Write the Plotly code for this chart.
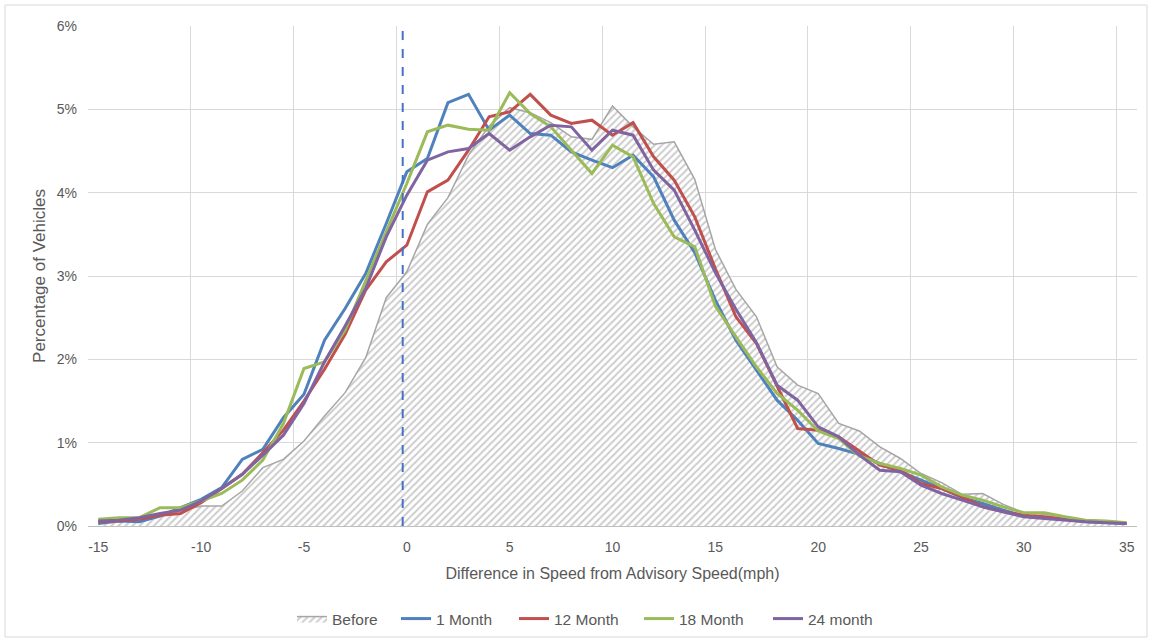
import plotly.graph_objects as go

# Speed difference from advisory speed (mph), one category per mph
speed_diff = list(range(-15, 36))

# Percentage of vehicles in each speed-difference bin
before = [0.04, 0.06, 0.08, 0.12, 0.18, 0.24, 0.24, 0.42, 0.70, 0.80,
          1.02, 1.32, 1.60, 2.02, 2.74, 3.05, 3.62, 3.94, 4.45, 4.80,
          5.02, 4.96, 4.84, 4.67, 4.64, 5.04, 4.79, 4.58, 4.61, 4.16,
          3.32, 2.84, 2.51, 1.91, 1.69, 1.59, 1.23, 1.14, 0.95, 0.81,
          0.63, 0.52, 0.38, 0.39, 0.26, 0.16, 0.14, 0.11, 0.06, 0.04, 0.03]
month_1 = [0.03, 0.06, 0.05, 0.12, 0.22, 0.32, 0.46, 0.80, 0.92, 1.30,
           1.58, 2.23, 2.61, 3.03, 3.63, 4.25, 4.41, 5.08, 5.18, 4.75,
           4.93, 4.71, 4.69, 4.49, 4.39, 4.30, 4.45, 4.19, 3.67, 3.28,
           2.71, 2.23, 1.87, 1.51, 1.27, 0.99, 0.93, 0.86, 0.75, 0.65,
           0.55, 0.45, 0.34, 0.27, 0.19, 0.12, 0.10, 0.08, 0.05, 0.04, 0.03]
month_12 = [0.05, 0.06, 0.08, 0.13, 0.15, 0.28, 0.45, 0.62, 0.88, 1.15,
            1.50, 1.88, 2.30, 2.83, 3.17, 3.37, 4.01, 4.15, 4.51, 4.91,
            4.97, 5.18, 4.93, 4.83, 4.87, 4.69, 4.84, 4.43, 4.15, 3.71,
            3.09, 2.51, 2.19, 1.67, 1.17, 1.15, 1.07, 0.90, 0.73, 0.67,
            0.51, 0.45, 0.35, 0.23, 0.17, 0.13, 0.11, 0.08, 0.06, 0.05, 0.03]
month_18 = [0.08, 0.10, 0.10, 0.22, 0.22, 0.30, 0.39, 0.55, 0.79, 1.23,
            1.89, 1.97, 2.35, 2.95, 3.53, 4.11, 4.73, 4.81, 4.76, 4.75,
            5.20, 4.95, 4.79, 4.51, 4.23, 4.57, 4.43, 3.87, 3.47, 3.35,
            2.64, 2.27, 1.91, 1.59, 1.39, 1.14, 1.05, 0.84, 0.75, 0.69,
            0.61, 0.47, 0.37, 0.31, 0.23, 0.16, 0.16, 0.11, 0.07, 0.06, 0.04]
month_24 = [0.06, 0.07, 0.10, 0.15, 0.19, 0.30, 0.45, 0.62, 0.85, 1.09,
            1.47, 1.97, 2.40, 2.85, 3.47, 3.97, 4.39, 4.49, 4.53, 4.71,
            4.51, 4.67, 4.81, 4.79, 4.51, 4.75, 4.69, 4.27, 4.03, 3.55,
            3.04, 2.60, 2.20, 1.69, 1.51, 1.19, 1.07, 0.85, 0.67, 0.65,
            0.49, 0.39, 0.31, 0.23, 0.17, 0.11, 0.09, 0.07, 0.05, 0.04, 0.03]

x_ticks = list(range(-15, 36, 5))
x_tick_labels = [str(v) for v in x_ticks]  # plain hyphen for negatives
y_ticks = list(range(0, 7))
y_tick_labels = [f"{v}%" for v in y_ticks]

# Advisory speed reference marker
advisory_x = -0.2

FONT = "Liberation Sans"
TXT = "#595959"
GRID = "#d9d9d9"

W, H = 1151, 642
ML, MR, MT, MB = 88, 14, 26, 116
pw, ph = W - ML - MR, H - MT - MB
def px_to_paper_x(px):
    return (px - ML) / pw
def px_to_paper_y(py):
    return (H - MB - py) / ph

fig = go.Figure()

fig.add_trace(go.Scatter(
    x=speed_diff, y=before, name="Before", mode="lines",
    line=dict(color="#a6a6a6", width=1.5),
    fill="tozeroy",
    fillpattern=dict(shape="/", fgcolor="#999999", bgcolor="white",
                     size=5, solidity=0.4),
    legend="legend",
))

series = [
    ("1 Month", month_1, "#4F81BD"),
    ("12 Month", month_12, "#C0504D"),
    ("18 Month", month_18, "#9BBB59"),
    ("24 month", month_24, "#8064A2"),
]
legend_ids = ["legend2", "legend3", "legend4", "legend5"]
for (name, vals, color), lg in zip(series, legend_ids):
    fig.add_trace(go.Scatter(
        x=speed_diff, y=vals, name=name, mode="lines",
        line=dict(color=color, width=3), legend=lg,
    ))

fig.add_shape(type="line", xref="x", yref="paper",
              x0=advisory_x, x1=advisory_x, y0=0, y1=1,
              line=dict(color="#4472C4", width=2, dash="dash"))

# Thin chart-area border
fig.add_shape(type="rect", xref="paper", yref="paper",
              x0=px_to_paper_x(5), x1=px_to_paper_x(1147),
              y0=px_to_paper_y(637), y1=px_to_paper_y(5),
              line=dict(color="#d9d9d9", width=1), fillcolor="rgba(0,0,0,0)",
              layer="below")

# One legend box per entry so the entries sit at fixed spacing
legend_left_px = [292, 396, 514, 639, 768]
legend_layout = {}
for key, lx in zip(["legend"] + legend_ids, legend_left_px):
    legend_layout[key] = dict(
        orientation="h", x=px_to_paper_x(lx), xanchor="left",
        y=px_to_paper_y(619), yanchor="middle",
        font=dict(family=FONT, size=15.5, color=TXT),
        itemwidth=30, bgcolor="rgba(0,0,0,0)",
    )

fig.update_layout(
    width=W, height=H,
    margin=dict(l=ML, r=MR, t=MT, b=MB, autoexpand=False),
    paper_bgcolor="white", plot_bgcolor="white",
    font=dict(family=FONT, size=14, color=TXT),
    showlegend=True,
    **legend_layout,
    xaxis=dict(
        range=[-15.5, 35.5], tickmode="array", tickvals=x_ticks,
        ticktext=x_tick_labels, automargin=False,
        showgrid=False, zeroline=False,
        showline=True, linecolor="#bfbfbf", linewidth=1,
        ticks="", tickfont=dict(size=14, color=TXT),
        ticklabelstandoff=8,
        minor=dict(tick0=-15.5, dtick=5, showgrid=True,
                   gridcolor=GRID, gridwidth=1, ticks=""),
        title=dict(text="Difference in Speed from Advisory Speed(mph)",
                   font=dict(size=16, color=TXT), standoff=14),
    ),
    yaxis=dict(
        range=[0, 6], tickmode="array", tickvals=y_ticks,
        ticktext=y_tick_labels, automargin=False,
        showgrid=True, gridcolor=GRID, gridwidth=1,
        zeroline=False, showline=False, ticks="",
        tickfont=dict(size=14, color=TXT),
        ticklabelstandoff=10,
        title=dict(text="Percentage of Vehicles",
                   font=dict(size=17, color=TXT), standoff=6),
    ),
)

fig.write_html("out.html")
